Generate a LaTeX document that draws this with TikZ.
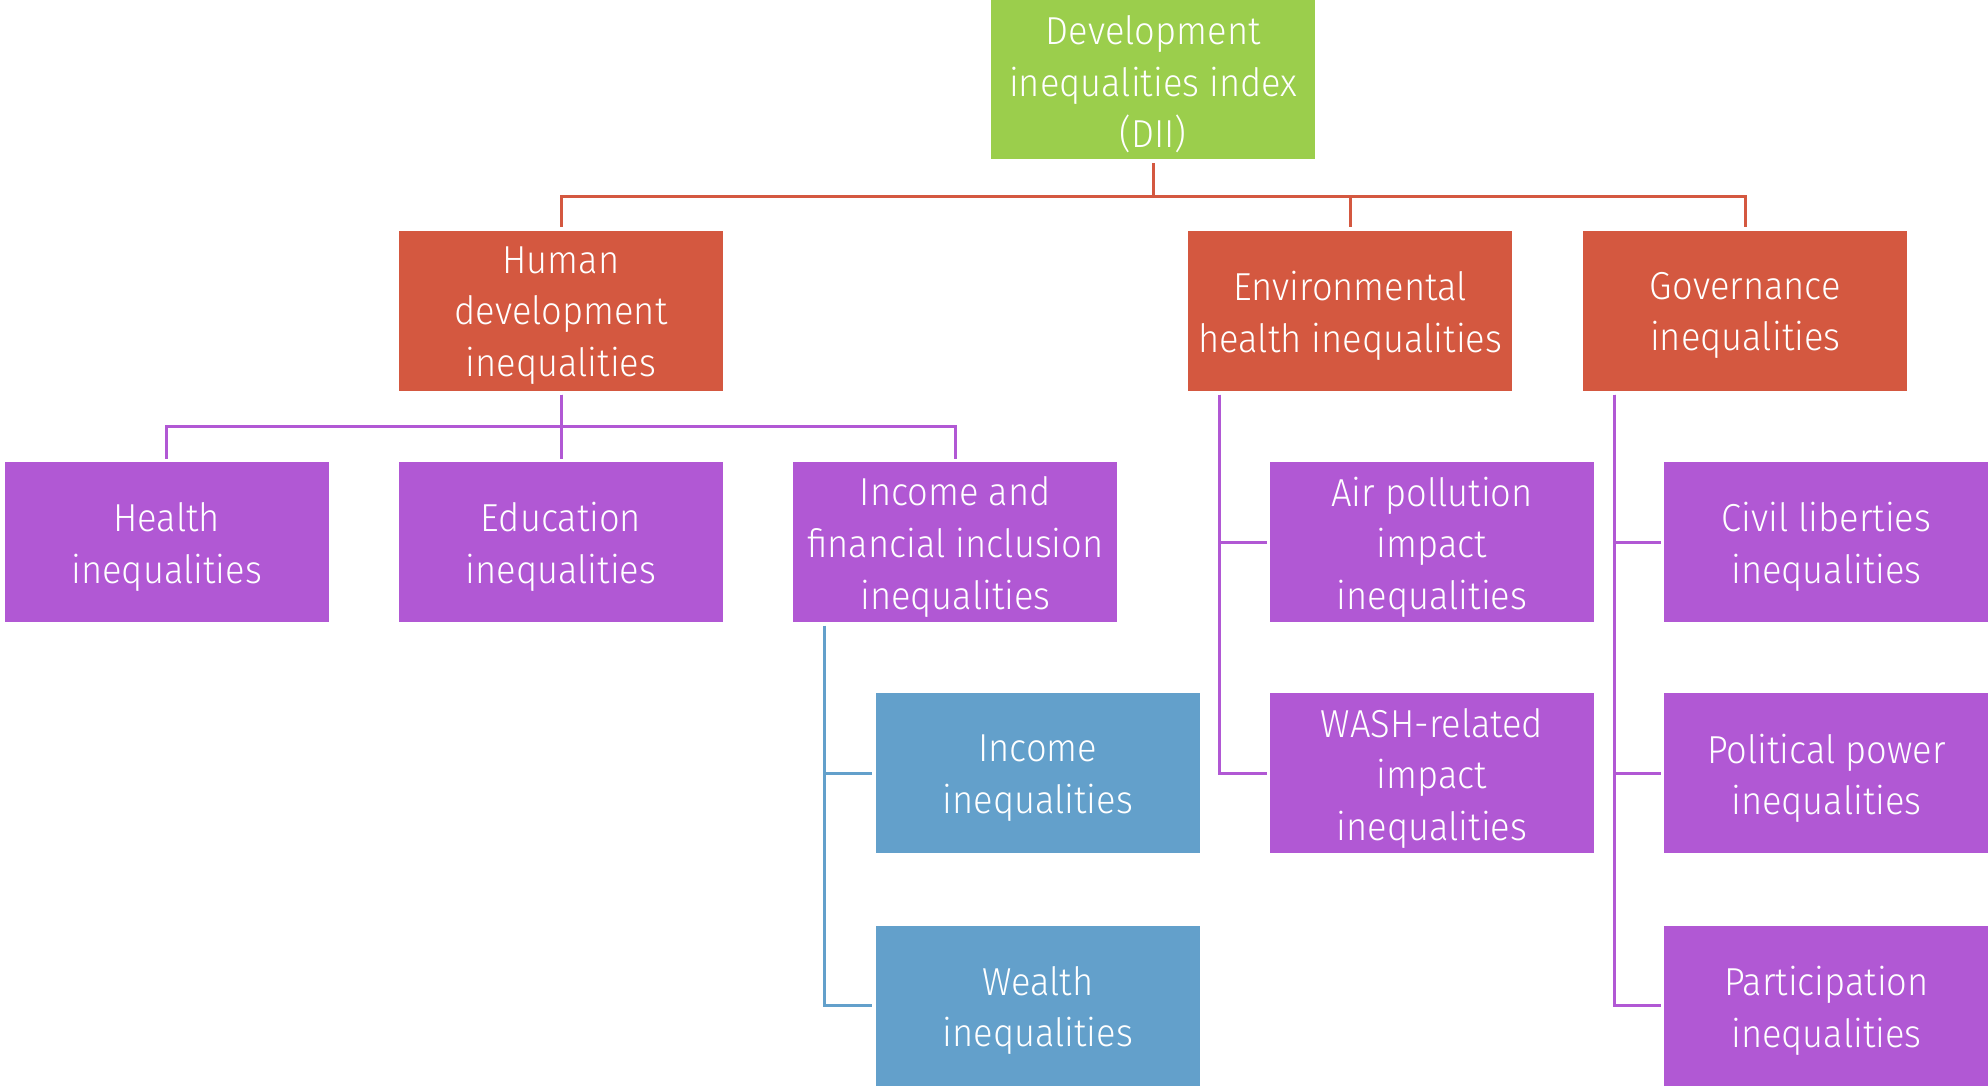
\documentclass[tikz,border=0pt]{standalone}
\usepackage{fontspec}
\setmainfont{Fira Sans Light}[FakeStretch=0.93]
\definecolor{diigreen}{HTML}{9BCE4C}
\definecolor{dimred}{HTML}{D45840}
\definecolor{dimpurple}{HTML}{B158D4}
\definecolor{dimblue}{HTML}{63A0CB}
\tikzset{
  boxtext/.style={inner sep=0pt, align=center, text=white, yshift=-2.5pt,
    font=\fontsize{19.5}{25.8}\selectfont},
  box/.style={rectangle, inner sep=0pt, minimum width=162pt, minimum height=80pt,
    label={[boxtext]center:#1}},
  topbox/.style={box={#1}, fill=diigreen},
  dimbox/.style={box={#1}, fill=dimred},
  subbox/.style={box={#1}, fill=dimpurple},
  leafbox/.style={box={#1}, fill=dimblue},
  link/.style={line width=1.5pt, shorten <=1.75pt, shorten >=1.5pt},
  redlink/.style={link, draw=dimred},
  purplelink/.style={link, draw=dimpurple},
  bluelink/.style={link, draw=dimblue},
}
\begin{document}
\begin{tikzpicture}[x=0.5pt,y=-0.5pt]
\useasboundingbox (0,0) rectangle (1988,1089);

% index
\node[topbox={Development\\inequalities index\\(DII)}] (dii) at (1153.25,79.25) {};

% dimensions
\node[dimbox={Human\\development\\inequalities}] (hum) at (561,310.6) {};
\node[dimbox={Environmental\\health inequalities}] (env) at (1350.3,310.6) {};
\node[dimbox={Governance\\inequalities}] (gov) at (1745.3,310.6) {};

% human development components
\node[subbox={Health\\inequalities}] (health) at (166.7,542) {};
\node[subbox={Education\\inequalities}] (edu) at (561,542) {};
\node[subbox={Income and\\financial inclusion\\inequalities}] (incfin) at (955.4,542) {};

% income sub-components
\node[leafbox={Income\\inequalities}] (income) at (1037.7,773.4) {};
\node[leafbox={Wealth\\inequalities}] (wealth) at (1037.7,1005.5) {};

% environmental health components
\node[subbox={Air pollution\\impact\\inequalities}] (air) at (1432,542) {};
\node[subbox={WASH-related\\impact\\inequalities}] (wash) at (1432,773.4) {};

% governance components
\node[subbox={Civil liberties\\inequalities}] (civil) at (1826.4,542) {};
\node[subbox={Political power\\inequalities}] (polit) at (1826.4,773.4) {};
\node[subbox={Participation\\inequalities}] (partic) at (1826.4,1005.5) {};

% index -> dimensions
\foreach \d in {hum,env,gov}
  \draw[redlink] (dii.south) -- ++(0,36.8) -| (\d.north);

% human development -> components
\foreach \d in {health,edu,incfin}
  \draw[purplelink] (hum.south) -- ++(0,35.5) -| (\d.north);

% income and financial inclusion -> leaves
\foreach \d in {income,wealth}
  \draw[bluelink] ([xshift=15.85pt]incfin.south west) |- (\d.west);

% environmental health -> components
\foreach \d in {air,wash}
  \draw[purplelink] ([xshift=15.85pt]env.south west) |- (\d.west);

% governance -> components
\foreach \d in {civil,polit,partic}
  \draw[purplelink] ([xshift=15.9pt]gov.south west) |- (\d.west);
\end{tikzpicture}
\end{document}
